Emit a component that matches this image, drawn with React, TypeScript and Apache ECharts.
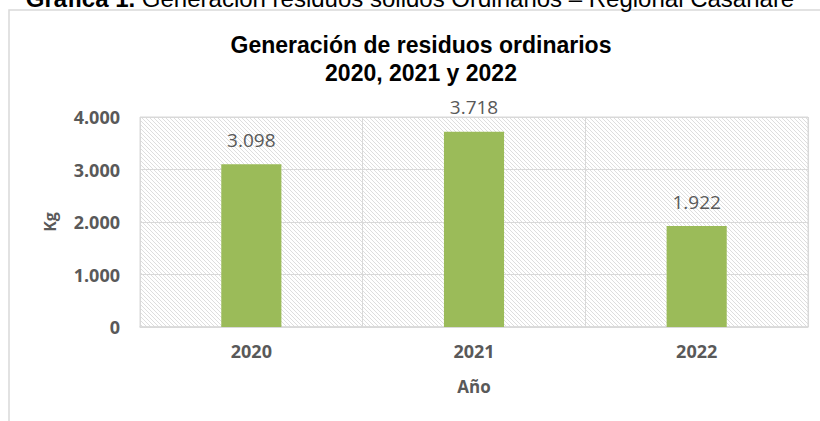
import React, { useEffect, useRef } from "react";
import * as echarts from "echarts";

const categories = ["2020", "2021", "2022"];
const values = [3098, 3718, 1922];
const yTicks = { min: 0, max: 4000, interval: 1000 };
const captionBold = "Gráfica 1.";
const captionRest = " Generación residuos sólidos Ordinarios – Regional Casanare";
const titleLines = ["Generación de residuos ordinarios", "2020, 2021 y 2022"];

const fmt = (v: number) => String(Math.round(v)).replace(/\B(?=(\d{3})+(?!\d))/g, ".");

const hatchSvg =
  '<svg xmlns="http://www.w3.org/2000/svg" width="4" height="4">' +
  '<rect width="4" height="4" fill="#ffffff"/>' +
  '<path d="M0,0 L4,4 M-1,3 L1,5 M3,-1 L5,1" stroke="#d6d6d6" stroke-width="0.8"/>' +
  "</svg>";
const hatchUrl = "data:image/svg+xml;charset=utf-8," + encodeURIComponent(hatchSvg);

export default function App() {
  const ref = useRef<HTMLDivElement>(null);
  useEffect(() => {
    if (!ref.current) return;
    const chart = echarts.init(ref.current, null, { renderer: "svg" });
    const labelFont = "'Open Sans', 'Noto Sans', sans-serif";
    chart.setOption({
      animation: false,
      backgroundColor: "#ffffff",
      graphic: [
        {
          type: "rect",
          shape: { x: 9, y: 10, width: 900, height: 500 },
          style: { fill: "none", stroke: "#d9d9d9", lineWidth: 1.5 },
          silent: true,
        },
        {
          type: "text",
          x: 410,
          y: 10,
          style: {
            text: "{b|" + captionBold + "}" + captionRest,
            fill: "#000000",
            font: "24px 'Liberation Sans', Arial, sans-serif",
            align: "center",
            verticalAlign: "bottom",
            rich: {
              b: { fontWeight: "bold", fontSize: 24, fontFamily: "'Liberation Sans', Arial, sans-serif", fill: "#000000" },
            },
          },
        },
      ],
      title: {
        text: titleLines.join("\n"),
        left: 416,
        top: 26,
        textAlign: "center",
        textStyle: {
          fontFamily: "'Liberation Sans', Arial, sans-serif",
          fontWeight: "bold",
          fontSize: 23,
          color: "#000000",
          lineHeight: 28,
        },
      },
      grid: {
        left: 140,
        right: 12,
        top: 117,
        bottom: 94,
        show: true,
        backgroundColor: { image: hatchUrl, repeat: "repeat", imageWidth: 4, imageHeight: 4 },
        borderColor: "#d9d9d9",
        borderWidth: 1,
      },
      xAxis: {
        type: "category",
        data: categories,
        name: "Año",
        nameLocation: "middle",
        nameGap: 51,
        nameTextStyle: { fontFamily: labelFont, fontWeight: "bold", fontSize: 17, color: "#595959" },
        axisLine: { show: true, lineStyle: { color: "#d9d9d9", width: 1.5 } },
        axisTick: { show: false },
        axisLabel: { margin: 15, fontFamily: labelFont, fontWeight: "bold", fontSize: 18, color: "#595959" },
        splitLine: { show: true, lineStyle: { color: "#d9d9d9", width: 1 } },
      },
      yAxis: {
        type: "value",
        min: yTicks.min,
        max: yTicks.max,
        interval: yTicks.interval,
        name: "Kg",
        nameLocation: "middle",
        nameGap: 82,
        nameTextStyle: { fontFamily: labelFont, fontWeight: "bold", fontSize: 16, color: "#595959" },
        axisLine: { show: false },
        axisTick: { show: false },
        axisLabel: {
          margin: 20,
          fontFamily: labelFont,
          fontWeight: "bold",
          fontSize: 18,
          color: "#595959",
          formatter: (v: number) => fmt(v),
        },
        splitLine: { show: true, lineStyle: { color: "#d9d9d9", width: 1 } },
      },
      series: [
        {
          type: "bar",
          data: values,
          barWidth: "27%",
          itemStyle: { color: "#9bbb59" },
          label: {
            show: true,
            position: "top",
            distance: 15,
            fontFamily: labelFont,
            fontSize: 19,
            color: "#595959",
            formatter: (p: any) => fmt(p.value),
          },
        },
      ],
    });
    return () => chart.dispose();
  }, []);
  return (
    <div
      ref={ref}
      style={{ position: "fixed", left: 0, top: 0, width: 820, height: 421 }}
    />
  );
}
